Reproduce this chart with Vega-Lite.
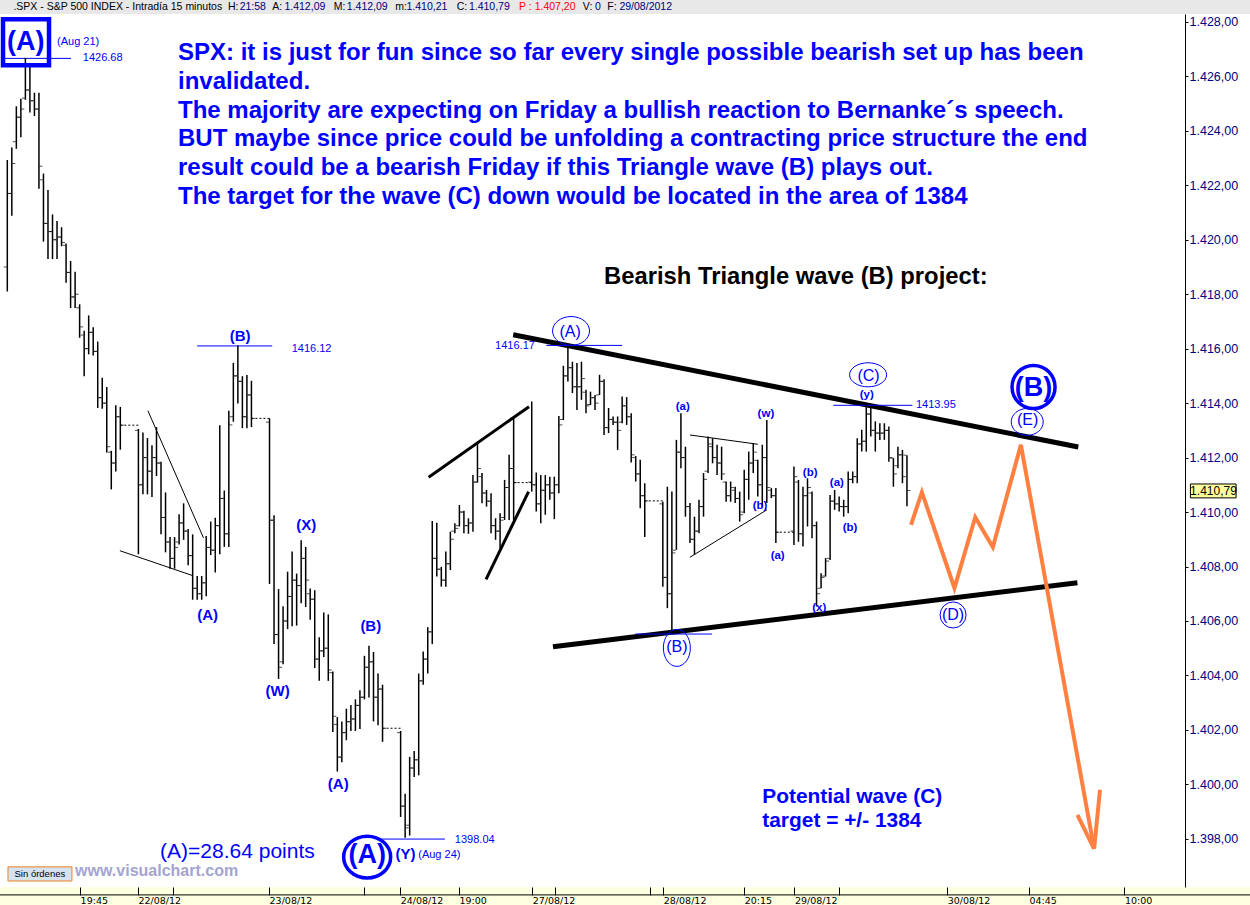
{
"$schema": "https://vega.github.io/schema/vega-lite/v6.json",
"width": 1185, "height": 873,
"autosize": {"type": "none"},
"padding": {"left": 0, "top": 14, "right": 65, "bottom": 18},
"background": "white",
"view": {"stroke": null, "fill": "white"},
"config": {"font": "Liberation Sans"},
"datasets": {
"ohlc": [
{"t":0,"o":1419.0,"h":1422.93,"l":1418.10,"c":1421.7},
{"t":1,"o":1421.7,"h":1423.39,"l":1420.88,"c":1422.8},
{"t":2,"o":1423.6,"h":1424.90,"l":1423.34,"c":1424.5},
{"t":3,"o":1424.5,"h":1425.18,"l":1423.76,"c":1424.8},
{"t":4,"o":1425.2,"h":1426.68,"l":1425.14,"c":1425.5},
{"t":5,"o":1425.5,"h":1426.41,"l":1424.67,"c":1425.1},
{"t":6,"o":1425.1,"h":1425.40,"l":1424.54,"c":1424.8},
{"t":7,"o":1424.8,"h":1425.40,"l":1421.87,"c":1422.7},
{"t":8,"o":1422.2,"h":1422.43,"l":1419.93,"c":1420.6},
{"t":9,"o":1420.6,"h":1421.83,"l":1419.29,"c":1420.3},
{"t":10,"o":1420.3,"h":1420.93,"l":1419.29,"c":1420.0},
{"t":11,"o":1420.0,"h":1420.69,"l":1419.29,"c":1420.1},
{"t":12,"o":1420.1,"h":1420.46,"l":1419.76,"c":1419.9},
{"t":13,"o":1419.8,"h":1419.86,"l":1418.42,"c":1418.8},
{"t":14,"o":1418.8,"h":1419.22,"l":1417.49,"c":1417.9},
{"t":15,"o":1417.9,"h":1418.82,"l":1417.49,"c":1418.0},
{"t":16,"o":1417.5,"h":1417.63,"l":1416.40,"c":1416.8},
{"t":17,"o":1416.5,"h":1416.66,"l":1414.99,"c":1416.0},
{"t":18,"o":1416.0,"h":1417.22,"l":1415.79,"c":1416.6},
{"t":19,"o":1416.6,"h":1416.79,"l":1415.75,"c":1415.9},
{"t":20,"o":1415.9,"h":1416.26,"l":1413.82,"c":1414.2},
{"t":21,"o":1414.2,"h":1414.93,"l":1413.79,"c":1414.0},
{"t":22,"o":1414.0,"h":1414.59,"l":1412.19,"c":1412.4},
{"t":23,"o":1412.2,"h":1412.25,"l":1410.83,"c":1411.8},
{"t":24,"o":1411.8,"h":1413.92,"l":1411.49,"c":1413.5},
{"t":25,"o":1413.5,"h":1413.86,"l":1412.29,"c":1413.19},
{"t":29,"o":1413.0,"h":1413.05,"l":1408.45,"c":1411.0},
{"t":30,"o":1411.0,"h":1412.92,"l":1410.65,"c":1412.0},
{"t":31,"o":1412.0,"h":1412.72,"l":1410.65,"c":1411.5},
{"t":32,"o":1411.5,"h":1412.45,"l":1410.55,"c":1412.0},
{"t":33,"o":1412.0,"h":1413.12,"l":1411.32,"c":1411.8},
{"t":34,"o":1411.8,"h":1411.85,"l":1409.18,"c":1409.8},
{"t":35,"o":1409.8,"h":1410.72,"l":1408.52,"c":1408.9},
{"t":36,"o":1408.9,"h":1409.08,"l":1407.92,"c":1408.3},
{"t":37,"o":1408.3,"h":1409.08,"l":1407.92,"c":1408.7},
{"t":38,"o":1408.9,"h":1409.92,"l":1408.81,"c":1409.6},
{"t":39,"o":1409.6,"h":1410.32,"l":1408.98,"c":1409.3},
{"t":40,"o":1409.3,"h":1409.38,"l":1408.05,"c":1408.4},
{"t":41,"o":1408.4,"h":1409.18,"l":1406.78,"c":1407.2},
{"t":42,"o":1407.2,"h":1407.65,"l":1406.78,"c":1407.0},
{"t":43,"o":1407.0,"h":1407.65,"l":1406.78,"c":1407.4},
{"t":44,"o":1407.4,"h":1409.12,"l":1406.91,"c":1408.7},
{"t":45,"o":1408.7,"h":1409.65,"l":1408.42,"c":1408.6},
{"t":46,"o":1408.6,"h":1409.79,"l":1407.78,"c":1409.5},
{"t":47,"o":1409.5,"h":1413.19,"l":1408.45,"c":1410.5},
{"t":48,"o":1410.5,"h":1410.79,"l":1408.72,"c":1409.2},
{"t":49,"o":1409.2,"h":1413.72,"l":1408.72,"c":1413.2},
{"t":50,"o":1413.5,"h":1415.48,"l":1413.32,"c":1415.0},
{"t":51,"o":1415.0,"h":1416.12,"l":1413.99,"c":1414.8},
{"t":52,"o":1414.8,"h":1414.99,"l":1413.08,"c":1413.5},
{"t":53,"o":1413.5,"h":1415.03,"l":1413.08,"c":1414.3},
{"t":54,"o":1414.3,"h":1414.82,"l":1413.12,"c":1413.44},
{"t":58,"o":1413.3,"h":1413.44,"l":1407.36,"c":1409.7},
{"t":59,"o":1409.7,"h":1409.88,"l":1405.15,"c":1405.5},
{"t":60,"o":1405.5,"h":1407.17,"l":1403.87,"c":1404.3},
{"t":61,"o":1404.5,"h":1406.54,"l":1404.41,"c":1406.0},
{"t":62,"o":1406.0,"h":1407.81,"l":1405.70,"c":1406.9},
{"t":63,"o":1406.9,"h":1408.55,"l":1405.81,"c":1407.5},
{"t":64,"o":1407.5,"h":1407.74,"l":1405.83,"c":1407.3},
{"t":65,"o":1407.3,"h":1408.96,"l":1406.65,"c":1408.3},
{"t":66,"o":1408.3,"h":1408.72,"l":1406.51,"c":1407.5},
{"t":67,"o":1407.0,"h":1407.19,"l":1406.04,"c":1406.8},
{"t":68,"o":1406.8,"h":1407.13,"l":1404.27,"c":1404.6},
{"t":69,"o":1404.6,"h":1405.40,"l":1403.80,"c":1404.9},
{"t":70,"o":1404.9,"h":1406.31,"l":1404.68,"c":1405.0},
{"t":71,"o":1405.0,"h":1406.24,"l":1403.80,"c":1404.2},
{"t":72,"o":1404.1,"h":1404.14,"l":1401.92,"c":1402.5},
{"t":73,"o":1402.2,"h":1402.47,"l":1400.47,"c":1401.0},
{"t":74,"o":1401.0,"h":1402.31,"l":1400.81,"c":1401.9},
{"t":75,"o":1401.9,"h":1402.78,"l":1401.62,"c":1402.3},
{"t":76,"o":1402.3,"h":1402.91,"l":1401.96,"c":1402.4},
{"t":77,"o":1402.4,"h":1403.12,"l":1401.96,"c":1402.9},
{"t":78,"o":1402.9,"h":1403.46,"l":1402.03,"c":1403.2},
{"t":79,"o":1403.2,"h":1404.72,"l":1403.12,"c":1404.3},
{"t":80,"o":1404.3,"h":1405.09,"l":1403.19,"c":1404.5},
{"t":81,"o":1404.5,"h":1404.86,"l":1402.31,"c":1403.2},
{"t":82,"o":1403.2,"h":1404.07,"l":1402.17,"c":1403.5},
{"t":83,"o":1403.5,"h":1403.66,"l":1401.56,"c":1402.06},
{"t":87,"o":1401.9,"h":1401.96,"l":1398.80,"c":1399.2},
{"t":88,"o":1399.2,"h":1399.65,"l":1398.04,"c":1398.4},
{"t":89,"o":1398.5,"h":1401.01,"l":1398.12,"c":1400.6},
{"t":90,"o":1400.6,"h":1401.22,"l":1400.27,"c":1400.9},
{"t":91,"o":1400.9,"h":1404.07,"l":1400.33,"c":1403.8},
{"t":92,"o":1403.8,"h":1404.88,"l":1403.66,"c":1404.6},
{"t":93,"o":1404.6,"h":1405.77,"l":1404.07,"c":1405.6},
{"t":94,"o":1405.6,"h":1409.67,"l":1405.15,"c":1408.3},
{"t":95,"o":1408.3,"h":1409.61,"l":1407.63,"c":1407.9},
{"t":96,"o":1407.9,"h":1407.99,"l":1407.26,"c":1407.5},
{"t":97,"o":1407.5,"h":1408.55,"l":1407.26,"c":1408.1},
{"t":98,"o":1408.1,"h":1409.28,"l":1407.87,"c":1409.0},
{"t":99,"o":1409.3,"h":1409.59,"l":1409.22,"c":1409.4},
{"t":100,"o":1409.5,"h":1410.26,"l":1409.47,"c":1410.0},
{"t":101,"o":1410.0,"h":1410.05,"l":1409.22,"c":1409.5},
{"t":102,"o":1409.5,"h":1409.77,"l":1409.20,"c":1409.6},
{"t":103,"o":1409.6,"h":1411.36,"l":1409.28,"c":1411.1},
{"t":104,"o":1411.1,"h":1412.59,"l":1411.08,"c":1411.6},
{"t":105,"o":1411.3,"h":1411.43,"l":1410.32,"c":1410.7},
{"t":106,"o":1410.7,"h":1410.81,"l":1410.20,"c":1410.4},
{"t":107,"o":1410.4,"h":1410.69,"l":1409.22,"c":1409.5},
{"t":108,"o":1409.5,"h":1409.77,"l":1408.98,"c":1409.3},
{"t":109,"o":1409.3,"h":1409.96,"l":1408.67,"c":1409.7},
{"t":110,"o":1409.8,"h":1411.18,"l":1409.71,"c":1410.9},
{"t":111,"o":1410.9,"h":1412.10,"l":1409.71,"c":1411.6},
{"t":112,"o":1411.6,"h":1413.48,"l":1409.71,"c":1411.08},
{"t":116,"o":1411.1,"h":1414.06,"l":1410.75,"c":1411.0},
{"t":117,"o":1411.0,"h":1411.45,"l":1410.02,"c":1410.3},
{"t":118,"o":1410.3,"h":1411.36,"l":1409.59,"c":1410.8},
{"t":119,"o":1410.8,"h":1411.36,"l":1409.90,"c":1411.0},
{"t":120,"o":1411.0,"h":1411.30,"l":1410.45,"c":1410.7},
{"t":121,"o":1410.7,"h":1411.30,"l":1409.74,"c":1411.0},
{"t":122,"o":1411.0,"h":1413.53,"l":1410.69,"c":1413.2},
{"t":123,"o":1413.4,"h":1415.37,"l":1413.38,"c":1415.0},
{"t":124,"o":1415.0,"h":1416.17,"l":1414.79,"c":1415.3},
{"t":125,"o":1415.3,"h":1415.52,"l":1414.37,"c":1414.6},
{"t":126,"o":1414.6,"h":1415.47,"l":1413.75,"c":1414.6},
{"t":127,"o":1414.6,"h":1415.52,"l":1414.12,"c":1414.9},
{"t":128,"o":1414.4,"h":1414.49,"l":1413.63,"c":1413.9},
{"t":129,"o":1413.95,"h":1414.42,"l":1413.93,"c":1414.2},
{"t":130,"o":1414.2,"h":1414.30,"l":1413.75,"c":1414.0},
{"t":131,"o":1414.3,"h":1415.04,"l":1414.30,"c":1414.8},
{"t":132,"o":1414.8,"h":1414.88,"l":1412.83,"c":1413.1},
{"t":133,"o":1413.1,"h":1413.82,"l":1412.90,"c":1413.4},
{"t":134,"o":1413.4,"h":1413.51,"l":1413.20,"c":1413.3},
{"t":135,"o":1413.3,"h":1413.51,"l":1412.28,"c":1413.0},
{"t":136,"o":1413.3,"h":1414.24,"l":1413.26,"c":1413.9},
{"t":137,"o":1413.9,"h":1414.22,"l":1413.20,"c":1413.5},
{"t":138,"o":1413.5,"h":1413.63,"l":1411.82,"c":1412.1},
{"t":139,"o":1412.0,"h":1412.06,"l":1411.12,"c":1411.4},
{"t":140,"o":1411.4,"h":1411.92,"l":1410.14,"c":1410.6},
{"t":141,"o":1410.6,"h":1411.06,"l":1409.08,"c":1410.41},
{"t":145,"o":1410.3,"h":1410.38,"l":1407.26,"c":1407.6},
{"t":146,"o":1407.6,"h":1410.93,"l":1406.47,"c":1407.0},
{"t":147,"o":1407.0,"h":1410.75,"l":1405.52,"c":1408.5},
{"t":148,"o":1408.6,"h":1412.65,"l":1408.61,"c":1412.2},
{"t":149,"o":1412.2,"h":1413.63,"l":1411.61,"c":1412.0},
{"t":150,"o":1412.0,"h":1412.40,"l":1409.83,"c":1410.2},
{"t":151,"o":1410.2,"h":1410.33,"l":1408.86,"c":1409.0},
{"t":152,"o":1409.0,"h":1409.83,"l":1408.43,"c":1409.3},
{"t":153,"o":1409.3,"h":1410.45,"l":1409.22,"c":1410.2},
{"t":154,"o":1410.2,"h":1411.43,"l":1409.83,"c":1411.2},
{"t":155,"o":1411.5,"h":1412.77,"l":1411.43,"c":1412.5},
{"t":156,"o":1412.4,"h":1412.71,"l":1411.79,"c":1412.0},
{"t":157,"o":1412.0,"h":1412.47,"l":1411.36,"c":1411.8},
{"t":158,"o":1411.8,"h":1412.40,"l":1411.18,"c":1411.4},
{"t":159,"o":1411.1,"h":1411.12,"l":1410.38,"c":1410.6},
{"t":160,"o":1410.6,"h":1411.12,"l":1410.38,"c":1410.9},
{"t":161,"o":1410.8,"h":1410.93,"l":1410.33,"c":1410.5},
{"t":162,"o":1410.5,"h":1410.75,"l":1409.65,"c":1409.9},
{"t":163,"o":1410.0,"h":1411.55,"l":1409.96,"c":1411.2},
{"t":164,"o":1411.2,"h":1412.22,"l":1410.45,"c":1411.8},
{"t":165,"o":1411.8,"h":1412.53,"l":1411.43,"c":1412.2},
{"t":166,"o":1411.9,"h":1411.92,"l":1410.57,"c":1411.0},
{"t":167,"o":1411.0,"h":1412.47,"l":1410.20,"c":1412.0},
{"t":168,"o":1412.0,"h":1413.38,"l":1410.33,"c":1410.9},
{"t":169,"o":1410.8,"h":1410.88,"l":1410.51,"c":1410.6},
{"t":170,"o":1410.6,"h":1410.88,"l":1408.86,"c":1409.26},
{"t":174,"o":1409.3,"h":1411.67,"l":1408.79,"c":1411.3},
{"t":175,"o":1411.1,"h":1411.18,"l":1408.91,"c":1409.2},
{"t":176,"o":1409.2,"h":1410.93,"l":1408.73,"c":1410.6},
{"t":177,"o":1410.6,"h":1411.24,"l":1409.47,"c":1410.9},
{"t":178,"o":1410.7,"h":1410.75,"l":1409.04,"c":1409.5},
{"t":179,"o":1409.5,"h":1409.65,"l":1406.53,"c":1407.0},
{"t":180,"o":1407.2,"h":1407.75,"l":1407.20,"c":1407.6},
{"t":181,"o":1407.65,"h":1408.31,"l":1407.63,"c":1408.2},
{"t":182,"o":1408.3,"h":1410.63,"l":1408.24,"c":1410.4},
{"t":183,"o":1410.4,"h":1410.81,"l":1410.08,"c":1410.3},
{"t":184,"o":1410.3,"h":1410.57,"l":1410.02,"c":1410.2},
{"t":185,"o":1410.2,"h":1410.45,"l":1409.83,"c":1410.2},
{"t":186,"o":1410.2,"h":1411.49,"l":1409.96,"c":1411.2},
{"t":187,"o":1411.2,"h":1411.49,"l":1411.06,"c":1411.3},
{"t":188,"o":1411.3,"h":1412.71,"l":1411.06,"c":1412.5},
{"t":189,"o":1412.5,"h":1413.02,"l":1412.22,"c":1412.6},
{"t":190,"o":1412.6,"h":1413.95,"l":1412.22,"c":1413.6},
{"t":191,"o":1413.6,"h":1413.82,"l":1412.77,"c":1413.0},
{"t":192,"o":1413.0,"h":1413.33,"l":1412.22,"c":1412.9},
{"t":193,"o":1412.9,"h":1413.26,"l":1412.65,"c":1412.9},
{"t":194,"o":1412.9,"h":1413.26,"l":1412.65,"c":1413.0},
{"t":195,"o":1413.0,"h":1413.14,"l":1411.85,"c":1412.0},
{"t":196,"o":1411.98,"h":1411.98,"l":1410.93,"c":1411.4},
{"t":197,"o":1411.7,"h":1412.40,"l":1411.61,"c":1412.1},
{"t":198,"o":1412.1,"h":1412.28,"l":1411.06,"c":1411.3},
{"t":199,"o":1412.09,"h":1412.09,"l":1410.21,"c":1410.79}
],
"gaps": [{"t":25,"t2":29,"p":1413.19},{"t":54,"t2":58,"p":1413.44},{"t":83,"t2":87,"p":1402.06},{"t":112,"t2":116,"p":1411.08},{"t":141,"t2":145,"p":1410.41},{"t":170,"t2":174,"p":1409.26}],
"levels": [{"t":-0.5,"t2":14.1,"p":1426.66},{"t":42.0,"t2":58.6,"p":1416.10},{"t":119.2,"t2":136.0,"p":1416.12},{"t":82.5,"t2":96.8,"p":1397.99},{"t":182.7,"t2":200.2,"p":1413.92},{"t":138.9,"t2":155.9,"p":1405.52}],
"thick": [{"seg":"upper","t":111.9,"p":1416.51},{"seg":"upper","t":236.9,"p":1412.39},{"seg":"lower","t":120.7,"p":1405.05},{"seg":"lower","t":236.7,"p":1407.40}],
"medium": [{"seg":"a","t":93.2,"p":1411.28},{"seg":"a","t":115.4,"p":1413.87},{"seg":"b","t":105.9,"p":1407.53},{"seg":"b","t":115.3,"p":1410.75}],
"thin": [{"seg":"a","t":24.9,"p":1408.58},{"seg":"a","t":41.1,"p":1407.66},{"seg":"b","t":31.1,"p":1413.72},{"seg":"b","t":43.4,"p":1409.05},{"seg":"c","t":151.0,"p":1412.83},{"seg":"c","t":166.0,"p":1412.49},{"seg":"d","t":151.0,"p":1408.34},{"seg":"d","t":168.0,"p":1410.08}],
"projection": [{"seg":"path","i":0,"t":199.9,"p":1409.53},{"seg":"path","i":1,"t":202.3,"p":1410.73},{"seg":"path","i":2,"t":209.5,"p":1407.21},{"seg":"path","i":3,"t":214.1,"p":1409.81},{"seg":"path","i":4,"t":218.0,"p":1408.71},{"seg":"path","i":5,"t":224.2,"p":1412.47},{"seg":"path","i":6,"t":240.4,"p":1397.63},{"seg":"left","i":0,"t":236.7,"p":1398.88},{"seg":"left","i":1,"t":240.4,"p":1397.63},{"seg":"right","i":0,"t":241.7,"p":1399.80},{"seg":"right","i":1,"t":240.4,"p":1397.63}],
"note": [
{"t":37.76,"p":1426.87,"text":"SPX: it is just for fun since so far every single possible bearish set up has been"},
{"t":37.76,"p":1425.80,"text":"invalidated."},
{"t":37.76,"p":1424.73,"text":"The majority are expecting on Friday a bullish reaction to Bernanke´s speech."},
{"t":37.76,"p":1423.71,"text":"BUT maybe since price could be unfolding a contracting price structure the end"},
{"t":37.76,"p":1422.64,"text":"result could be a bearish Friday if this Triangle wave (B) plays out."},
{"t":37.76,"p":1421.56,"text":"The target for the wave (C) down would be located in the area of 1384"}
],
"project": [{"t":132.0,"p":1418.63,"text":"Bearish Triangle wave (B) project:"}],
"target": [{"t":167.0,"p":1399.54,"text":"Potential wave (C)"},{"t":167.0,"p":1398.66,"text":"target = +/- 1384"}],
"points": [{"t":33.8,"p":1397.52,"text":"(A)=28.64 points"}],
"waves": [{"t":51.5,"p":1416.47,"text":"(B)"},{"t":44.3,"p":1406.22,"text":"(A)"},{"t":66.1,"p":1409.53,"text":"(X)"},{"t":59.8,"p":1403.42,"text":"(W)"},{"t":80.4,"p":1405.83,"text":"(B)"},{"t":73.2,"p":1400.02,"text":"(A)"},{"t":88.1,"p":1397.45,"text":"(Y)"}],
"circled": [{"t":124.5,"p":1416.63,"text":"(A)"},{"t":148.1,"p":1405.06,"text":"(B)"},{"t":190.5,"p":1415.00,"text":"(C)"},{"t":225.7,"p":1413.38,"text":"(E)"},{"t":209.2,"p":1406.22,"text":"(D)"}],
"big": [{"t":227.0,"p":1414.55,"text":"(B)"},{"t":4.1,"p":1427.27,"text":"(A)"},{"t":79.6,"p":1397.41,"text":"(A)"}],
"minor": [{"t":149.4,"p":1413.84,"text":"(a)"},{"t":167.8,"p":1413.60,"text":"(w)"},{"t":166.5,"p":1410.23,"text":"(b)"},{"t":170.4,"p":1408.39,"text":"(a)"},{"t":177.6,"p":1411.45,"text":"(b)"},{"t":183.5,"p":1411.08,"text":"(a)"},{"t":186.4,"p":1409.41,"text":"(b)"},{"t":179.6,"p":1406.47,"text":"(x)"},{"t":190.1,"p":1414.30,"text":"(y)"}],
"pricetags": [{"t":11.0,"p":1427.27,"text":"(Aug 21)"},{"t":16.7,"p":1426.68,"text":"1426.68"},{"t":62.9,"p":1416.00,"text":"1416.12"},{"t":107.9,"p":1416.08,"text":"1416.17"},{"t":99.0,"p":1397.96,"text":"1398.04"},{"t":201.0,"p":1413.94,"text":"1413.95"},{"t":90.9,"p":1397.41,"text":"(Aug 24)"}],
"header": [
{"t":1.35,"p":1428.55,"kind":"label","text":".SPX - S&P 500 INDEX - Intradía 15 minutos"},
{"t":48.8,"p":1428.55,"kind":"label","text":"H:"},
{"t":51.4,"p":1428.55,"kind":"value","text":"21:58"},
{"t":58.6,"p":1428.55,"kind":"label","text":"A:"},
{"t":61.3,"p":1428.55,"kind":"value","text":"1.412,09"},
{"t":72.2,"p":1428.55,"kind":"label","text":"M:"},
{"t":75.1,"p":1428.55,"kind":"value","text":"1.412,09"},
{"t":85.8,"p":1428.55,"kind":"label","text":"m:"},
{"t":88.3,"p":1428.55,"kind":"value","text":"1.410,21"},
{"t":99.4,"p":1428.55,"kind":"label","text":"C:"},
{"t":102.1,"p":1428.55,"kind":"value","text":"1.410,79"},
{"t":113.2,"p":1428.55,"kind":"alert","text":"P : 1.407,20"},
{"t":127.3,"p":1428.55,"kind":"label","text":"V:"},
{"t":130.0,"p":1428.55,"kind":"value","text":"0"},
{"t":132.7,"p":1428.55,"kind":"label","text":"F:"},
{"t":135.4,"p":1428.55,"kind":"value","text":"29/08/2012"}
],
"marks": [
{"t":4.14,"p":1427.25,"ring":"box"},
{"t":124.7,"p":1416.65,"ring":"A"},
{"t":148.1,"p":1405.01,"ring":"B"},
{"t":190.4,"p":1415.04,"ring":"C"},
{"t":225.6,"p":1413.31,"ring":"E"},
{"t":209.2,"p":1406.22,"ring":"D"},
{"t":227.0,"p":1414.59,"ring":"bigB"},
{"t":79.6,"p":1397.33,"ring":"bigA"}
],
"misc": [{"t":15.0,"p":1396.82,"text":"www.visualchart.com"}],
"sinbox": [{"t":0.15,"t2":14.3,"p":1396.45,"p2":1396.97,"text":"Sin órdenes","tc":7.2,"pc":1396.71}],
"flag": [{"t":261.7,"t2":271.8,"p":1410.52,"p2":1411.03,"text":"1.410,79","tc":266.8,"pc":1410.79}]
},
"encoding": {
  "x": {"field": "t", "type": "quantitative", "title": null, "scale": {"domain": [-1.615, 260.5], "nice": false, "zero": false},
   "axis": {"orient": "bottom", "title": null, "grid": false, "zindex": 1,
    "values": [16.1, 28.9, 36.7, 57.9, 78.9, 86.9, 99.9, 116.1, 121.2, 142.2, 145.1, 163, 174.1, 184, 207.9, 226, 247.1],
    "labelExpr": "datum.value == 16.1 ? '19:45' : datum.value == 28.9 ? '22/08/12' : datum.value == 57.9 ? '23/08/12' : datum.value == 86.9 ? '24/08/12' : datum.value == 99.9 ? '19:00' : datum.value == 116.1 ? '27/08/12' : datum.value == 145.1 ? '28/08/12' : datum.value == 163 ? '20:15' : datum.value == 174.1 ? '29/08/12' : datum.value == 207.9 ? '30/08/12' : datum.value == 226 ? '04:45' : datum.value == 247.1 ? '10:00' : ''",
    "domain": false, "tickColor": "#000000", "tickSize": 8, "tickWidth": 1,
    "labelAlign": "left", "labelBaseline": "top", "labelDx": 1, "labelPadding": 0,
    "labelFont": "DejaVu Sans", "labelFontSize": 9.5, "labelColor": "#000000",
    "labelOverlap": false, "labelFlush": false, "labelBound": false}},
  "y": {"field": "p", "type": "quantitative", "title": null, "scale": {"domain": [1396.23, 1428.29], "nice": false, "zero": false},
   "axis": {"orient": "right", "title": null, "grid": false, "zindex": 1,
    "values": [1398, 1400, 1402, 1404, 1406, 1408, 1410, 1412, 1414, 1416, 1418, 1420, 1422, 1424, 1426, 1428],
    "labelExpr": "replace(replace(replace(format(datum.value, ',.2f'), ',', '#'), '.', ','), '#', '.')",
    "domain": true, "domainColor": "#000000", "domainWidth": 1, "tickColor": "#000000", "tickSize": 3, "labelPadding": 1,
    "labelFont": "Liberation Sans", "labelFontSize": 12.5, "labelColor": "#000080",
    "labelOverlap": false, "labelFlush": false, "labelBound": false}}
},
"layer": [
{"data": {"values": [{"t": -2, "t2": 276, "p": 1396.23, "p2": 1395.4}]}, "mark": {"type": "rect", "color": "#ffffe1"},
 "encoding": {"x2": {"field": "t2"}, "y2": {"field": "p2"}}},
{"data": {"values": [{"t": -2, "t2": 276, "p": 1428.29, "p2": 1429.0}]}, "mark": {"type": "rect", "color": "#e8e8e8"},
 "encoding": {"x2": {"field": "t2"}, "y2": {"field": "p2"}}},
{"data": {"values": [{"t": -2, "t2": 276, "p": 1395.94}]}, "mark": {"type": "rule", "color": "#000000", "strokeWidth": 1},
 "encoding": {"x2": {"field": "t2"}}},
{"data": {"name": "thin"}, "mark": {"type": "line", "color": "#000000", "strokeWidth": 1},
 "encoding": {"detail": {"field": "seg"}}},
{"data": {"name": "medium"}, "mark": {"type": "line", "color": "#000000", "strokeWidth": 3},
 "encoding": {"detail": {"field": "seg"}}},
{"data": {"name": "thick"}, "mark": {"type": "line", "color": "#000000", "strokeWidth": 5},
 "encoding": {"detail": {"field": "seg"}}},
{"data": {"name": "levels"}, "mark": {"type": "rule", "color": "#0000ff", "strokeWidth": 1},
 "encoding": {"x2": {"field": "t2"}}},
{"data": {"name": "gaps"}, "mark": {"type": "rule", "color": "#000000", "strokeWidth": 1, "strokeDash": [2, 2]},
 "encoding": {"x2": {"field": "t2"}}},
{"data": {"name": "ohlc"}, "mark": {"type": "rule", "color": "#000000", "strokeWidth": 1.5},
 "encoding": {
  "y": {"field": "l", "type": "quantitative", "title": null, "scale": {"domain": [1396.23, 1428.29], "nice": false, "zero": false}},
  "y2": {"field": "h"}}},
{"data": {"name": "ohlc"}, "mark": {"type": "tick", "color": "#000000", "orient": "horizontal", "size": 3, "thickness": 1, "xOffset": -2},
 "encoding": {
  "y": {"field": "o", "type": "quantitative", "title": null, "scale": {"domain": [1396.23, 1428.29], "nice": false, "zero": false}}}},
{"data": {"name": "ohlc"}, "mark": {"type": "tick", "color": "#000000", "orient": "horizontal", "size": 3, "thickness": 1, "xOffset": 2},
 "encoding": {
  "y": {"field": "c", "type": "quantitative", "title": null, "scale": {"domain": [1396.23, 1428.29], "nice": false, "zero": false}}}},
{"data": {"name": "projection"}, "mark": {"type": "line", "color": "#ff8040", "strokeWidth": 4, "strokeJoin": "miter"},
 "encoding": {"detail": {"field": "seg"}, "order": {"field": "i"}}},
{"data": {"name": "marks"}, "transform": [{"filter": "datum.ring == 'A'"}], "mark": {"type": "point", "shape": "M -1 0 A 1 0.78 0 1 0 1 0 A 1 0.78 0 1 0 -1 0", "size": 1369, "filled": false, "color": "#0000ff", "strokeWidth": 1, "opacity": 1}},
{"data": {"name": "marks"}, "transform": [{"filter": "datum.ring == 'B'"}], "mark": {"type": "point", "shape": "M -0.73 0 A 0.73 1 0 1 0 0.73 0 A 0.73 1 0 1 0 -0.73 0", "size": 1369, "filled": false, "color": "#0000ff", "strokeWidth": 1, "opacity": 1}},
{"data": {"name": "marks"}, "transform": [{"filter": "datum.ring == 'C'"}], "mark": {"type": "point", "shape": "M -1 0 A 1 0.65 0 1 0 1 0 A 1 0.65 0 1 0 -1 0", "size": 1369, "filled": false, "color": "#0000ff", "strokeWidth": 1, "opacity": 1}},
{"data": {"name": "marks"}, "transform": [{"filter": "datum.ring == 'E'"}], "mark": {"type": "point", "shape": "M -1 0 A 1 0.84 0 1 0 1 0 A 1 0.84 0 1 0 -1 0", "size": 1024, "filled": false, "color": "#0000ff", "strokeWidth": 1, "opacity": 1}},
{"data": {"name": "marks"}, "transform": [{"filter": "datum.ring == 'D'"}], "mark": {"type": "point", "shape": "circle", "size": 676, "filled": false, "color": "#0000ff", "strokeWidth": 1, "opacity": 1}},
{"data": {"name": "marks"}, "transform": [{"filter": "datum.ring == 'bigB'"}], "mark": {"type": "point", "shape": "circle", "size": 1849, "filled": false, "color": "#0000ff", "strokeWidth": 3.5, "opacity": 1}},
{"data": {"name": "marks"}, "transform": [{"filter": "datum.ring == 'bigA'"}], "mark": {"type": "point", "shape": "M -1 0 A 1 0.89 0 1 0 1 0 A 1 0.89 0 1 0 -1 0", "size": 2209, "filled": false, "color": "#0000ff", "strokeWidth": 3.5, "opacity": 1}},
{"data": {"name": "marks"}, "transform": [{"filter": "datum.ring == 'box'"}], "mark": {"type": "point", "shape": "square", "size": 2116, "filled": false, "color": "#0000ff", "strokeWidth": 4.5, "opacity": 1}},
{"data": {"name": "note"}, "mark": {"type": "text", "align": "left", "baseline": "middle", "font": "Liberation Sans", "fontWeight": "bold", "fontSize": 24, "color": "#0000ff"},
 "encoding": {"text": {"field": "text"}}},
{"data": {"name": "project"}, "mark": {"type": "text", "align": "left", "baseline": "middle", "font": "Liberation Sans", "fontWeight": "bold", "fontSize": 23.8, "color": "#000000"},
 "encoding": {"text": {"field": "text"}}},
{"data": {"name": "target"}, "mark": {"type": "text", "align": "left", "baseline": "middle", "font": "Liberation Sans", "fontWeight": "bold", "fontSize": 20.9, "color": "#0000ff"},
 "encoding": {"text": {"field": "text"}}},
{"data": {"name": "points"}, "mark": {"type": "text", "align": "left", "baseline": "middle", "font": "Liberation Sans", "fontSize": 21, "color": "#0000ff"},
 "encoding": {"text": {"field": "text"}}},
{"data": {"name": "waves"}, "mark": {"type": "text", "align": "center", "baseline": "middle", "font": "Liberation Sans", "fontWeight": "bold", "fontSize": 15, "color": "#0000ff"},
 "encoding": {"text": {"field": "text"}}},
{"data": {"name": "circled"}, "mark": {"type": "text", "align": "center", "baseline": "middle", "font": "Liberation Sans", "fontSize": 16, "color": "#0000ff"},
 "encoding": {"text": {"field": "text"}}},
{"data": {"name": "big"}, "mark": {"type": "text", "align": "center", "baseline": "middle", "font": "Liberation Sans", "fontWeight": "bold", "fontSize": 27, "color": "#0000ff"},
 "encoding": {"text": {"field": "text"}}},
{"data": {"name": "minor"}, "mark": {"type": "text", "align": "center", "baseline": "middle", "font": "Liberation Sans", "fontWeight": "bold", "fontSize": 11.5, "color": "#0000ff"},
 "encoding": {"text": {"field": "text"}}},
{"data": {"name": "pricetags"}, "mark": {"type": "text", "align": "left", "baseline": "middle", "font": "Liberation Sans", "fontSize": 11, "color": "#0000ff"},
 "encoding": {"text": {"field": "text"}}},
{"data": {"name": "header"}, "mark": {"type": "text", "align": "left", "baseline": "middle", "font": "Liberation Sans", "fontSize": 10.5},
 "encoding": {
  "color": {"field": "kind", "type": "nominal", "scale": {"domain": ["label", "value", "alert"], "range": ["#000000", "#000080", "#ff0000"]}, "legend": null},
  "text": {"field": "text"}}},
{"data": {"name": "misc"}, "mark": {"type": "text", "align": "left", "baseline": "middle", "font": "Liberation Sans", "fontWeight": "bold", "fontSize": 16, "color": "#a4a4d0"},
 "encoding": {"text": {"field": "text"}}},
{"data": {"name": "sinbox"}, "mark": {"type": "rect", "fill": "#d6e2ee", "stroke": "#f08020", "strokeWidth": 1},
 "encoding": {"x2": {"field": "t2"}, "y2": {"field": "p2"}}},
{"data": {"name": "sinbox"}, "mark": {"type": "text", "align": "center", "baseline": "middle", "font": "Liberation Sans", "fontSize": 9.5, "color": "#000000"},
 "encoding": {
  "x": {"field": "tc", "type": "quantitative", "title": null, "scale": {"domain": [-1.615, 260.5], "nice": false, "zero": false}},
  "y": {"field": "pc", "type": "quantitative", "title": null, "scale": {"domain": [1396.23, 1428.29], "nice": false, "zero": false}},
  "text": {"field": "text"}}},
{"data": {"name": "flag"}, "mark": {"type": "rect", "fill": "#ffffa0", "stroke": "#000000", "strokeWidth": 1},
 "encoding": {"x2": {"field": "t2"}, "y2": {"field": "p2"}}},
{"data": {"name": "flag"}, "mark": {"type": "text", "align": "center", "baseline": "middle", "font": "Liberation Sans", "fontSize": 12, "color": "#000000"},
 "encoding": {
  "x": {"field": "tc", "type": "quantitative", "title": null, "scale": {"domain": [-1.615, 260.5], "nice": false, "zero": false}},
  "y": {"field": "pc", "type": "quantitative", "title": null, "scale": {"domain": [1396.23, 1428.29], "nice": false, "zero": false}},
  "text": {"field": "text"}}}
]
}
